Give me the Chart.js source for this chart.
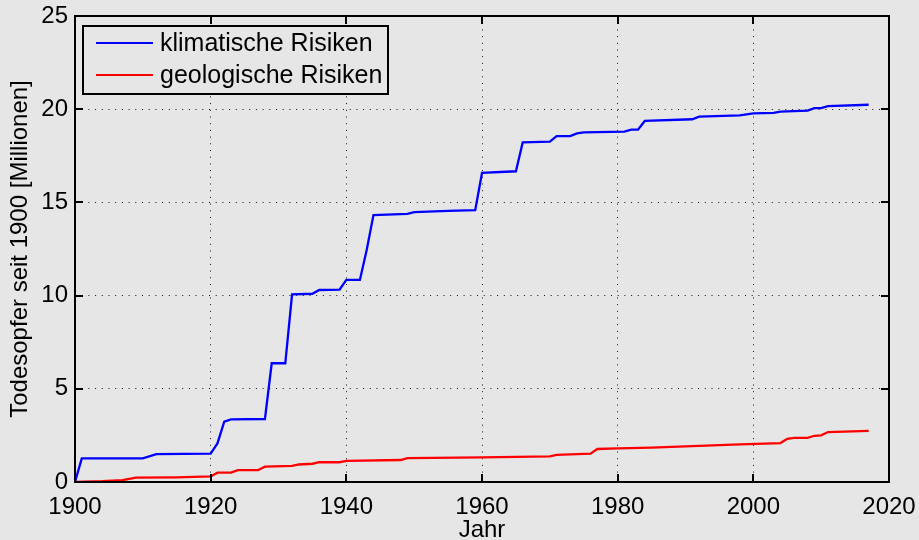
<!DOCTYPE html>
<html>
<head>
<meta charset="utf-8">
<title>Todesopfer seit 1900</title>
<script src="https://cdn.jsdelivr.net/npm/chart.js@4.4.1/dist/chart.umd.min.js"></script>
<style>
  html, body { margin: 0; padding: 0; background: #e6e6e6; }
  canvas { display: block; }
</style>
</head>
<body>
<canvas id="chart" width="919" height="540"></canvas>
<script>
// cumulative deaths since 1900, in millions
const klimaYears = [1900, 1901, 1910, 1912, 1920, 1921, 1922, 1923, 1928, 1929, 1931, 1932, 1935, 1936,
  1939, 1940, 1942, 1943, 1944, 1949, 1950, 1955, 1959, 1960, 1965, 1966, 1970, 1971, 1973, 1974,
  1975, 1981, 1982, 1983, 1984, 1991, 1992, 1998, 2000, 2003, 2004, 2008, 2009, 2010, 2011, 2017];
const klimaValues = [0, 1.27, 1.27, 1.50, 1.52, 2.07, 3.24, 3.36, 3.38, 6.37, 6.37, 10.07, 10.10, 10.30,
  10.32, 10.84, 10.84, 12.45, 14.32, 14.38, 14.48, 14.54, 14.58, 16.58, 16.67, 18.22, 18.26, 18.56, 18.56, 18.70,
  18.76, 18.80, 18.90, 18.90, 19.37, 19.46, 19.60, 19.67, 19.78, 19.80, 19.87, 19.92, 20.06, 20.06, 20.17, 20.24];

const geoYears = [1900, 1904, 1907, 1909, 1915, 1920, 1921, 1923, 1924, 1927, 1928, 1932, 1933, 1935,
  1936, 1939, 1940, 1948, 1949, 1960, 1970, 1971, 1976, 1977, 1980, 1985, 1991, 1998, 2004, 2005,
  2006, 2008, 2009, 2010, 2011, 2017];
const geoValues = [0, 0.04, 0.10, 0.23, 0.25, 0.30, 0.50, 0.50, 0.64, 0.64, 0.82, 0.86, 0.94, 0.98,
  1.06, 1.06, 1.13, 1.18, 1.28, 1.32, 1.37, 1.45, 1.52, 1.77, 1.80, 1.84, 1.93, 2.02, 2.09, 2.32,
  2.37, 2.37, 2.48, 2.50, 2.68, 2.74];

const seriesLabels = ["klimatische Risiken", "geologische Risiken"];
const xTicks = [1900, 1920, 1940, 1960, 1980, 2000, 2020];
const yTicks = [0, 5, 10, 15, 20, 25];

const FONT = "'Liberation Sans', Arial, Helvetica, sans-serif";

function toPoints(xs, ys) {
  return xs.map((x, i) => ({ x: x, y: ys[i] }));
}

// matlab look: gray figure, black box, inward ticks, boxed legend
const matlabFrame = {
  id: "matlabFrame",
  beforeDraw(chart) {
    const ctx = chart.ctx;
    ctx.save();
    ctx.fillStyle = "#e6e6e6";
    ctx.fillRect(0, 0, chart.width, chart.height);
    ctx.restore();
  },
  afterDatasetsDraw(chart) {
    const ctx = chart.ctx;
    const a = chart.chartArea;
    const xs = chart.scales.x;
    const ys = chart.scales.y;
    const tl = 8;
    ctx.save();
    ctx.strokeStyle = "#000";
    ctx.lineWidth = 2;
    ctx.beginPath();
    xTicks.forEach(v => {
      const px = Math.round(xs.getPixelForValue(v));
      ctx.moveTo(px, a.bottom); ctx.lineTo(px, a.bottom - tl);
      ctx.moveTo(px, a.top); ctx.lineTo(px, a.top + tl);
    });
    yTicks.forEach(v => {
      const py = Math.round(ys.getPixelForValue(v));
      ctx.moveTo(a.left, py); ctx.lineTo(a.left + tl, py);
      ctx.moveTo(a.right, py); ctx.lineTo(a.right - tl, py);
    });
    ctx.stroke();
    ctx.strokeRect(a.left, a.top, a.right - a.left, a.bottom - a.top);

    // legend
    const lx = 83, ly = 26, lw = 305, lh = 68;
    ctx.fillStyle = "#e6e6e6";
    ctx.fillRect(lx, ly, lw, lh);
    ctx.strokeRect(lx, ly, lw, lh);
    ctx.font = "25px " + FONT;
    ctx.textBaseline = "middle";
    chart.data.datasets.forEach((ds, i) => {
      const cy = ly + 17 + i * 32;
      ctx.strokeStyle = ds.borderColor;
      ctx.lineWidth = 2;
      ctx.beginPath();
      ctx.moveTo(96, cy); ctx.lineTo(153, cy);
      ctx.stroke();
      ctx.fillStyle = "#000";
      ctx.fillText(ds.label, 160, cy + 1);
    });
    ctx.restore();
  }
};

new Chart(document.getElementById("chart"), {
  type: "line",
  data: {
    datasets: [
      {
        label: seriesLabels[0],
        data: toPoints(klimaYears, klimaValues),
        borderColor: "#0000ff",
        borderWidth: 2.3,
        pointRadius: 0,
        tension: 0
      },
      {
        label: seriesLabels[1],
        data: toPoints(geoYears, geoValues),
        borderColor: "#ff0000",
        borderWidth: 2.3,
        pointRadius: 0,
        tension: 0
      }
    ]
  },
  options: {
    responsive: false,
    animation: false,
    layout: { padding: { top: 16, right: 30, left: 0, bottom: 0 } },
    plugins: {
      legend: { display: false },
      tooltip: { enabled: false }
    },
    scales: {
      x: {
        type: "linear",
        min: 1900,
        max: 2020,
        afterFit: s => { s.height = 58; s.paddingLeft = 0; s.paddingRight = 0; },
        afterBuildTicks: s => { s.ticks = xTicks.map(v => ({ value: v })); },
        ticks: {
          color: "#000",
          font: { family: FONT, size: 24 },
          padding: 11,
          maxRotation: 0,
          callback: v => String(v)
        },
        grid: { color: "#111", lineWidth: 1, drawTicks: false },
        border: { display: false, dash: [1, 5.7] },
        title: {
          display: true,
          text: "Jahr",
          color: "#000",
          font: { family: FONT, size: 24 },
          padding: { top: 0, bottom: -5 }
        }
      },
      y: {
        min: 0,
        max: 25,
        afterFit: s => { s.width = 75; s.paddingTop = 0; s.paddingBottom = 0; },
        afterBuildTicks: s => { s.ticks = yTicks.map(v => ({ value: v })); },
        ticks: {
          color: "#000",
          font: { family: FONT, size: 24 },
          padding: 7
        },
        grid: { color: "#111", lineWidth: 1, drawTicks: false },
        border: { display: false, dash: [1, 5.7] },
        title: {
          display: true,
          text: "Todesopfer seit 1900 [Millionen]",
          color: "#000",
          font: { family: FONT, size: 24 },
          padding: { top: 6, bottom: 0 }
        }
      }
    }
  },
  plugins: [matlabFrame]
});
</script>
</body>
</html>
